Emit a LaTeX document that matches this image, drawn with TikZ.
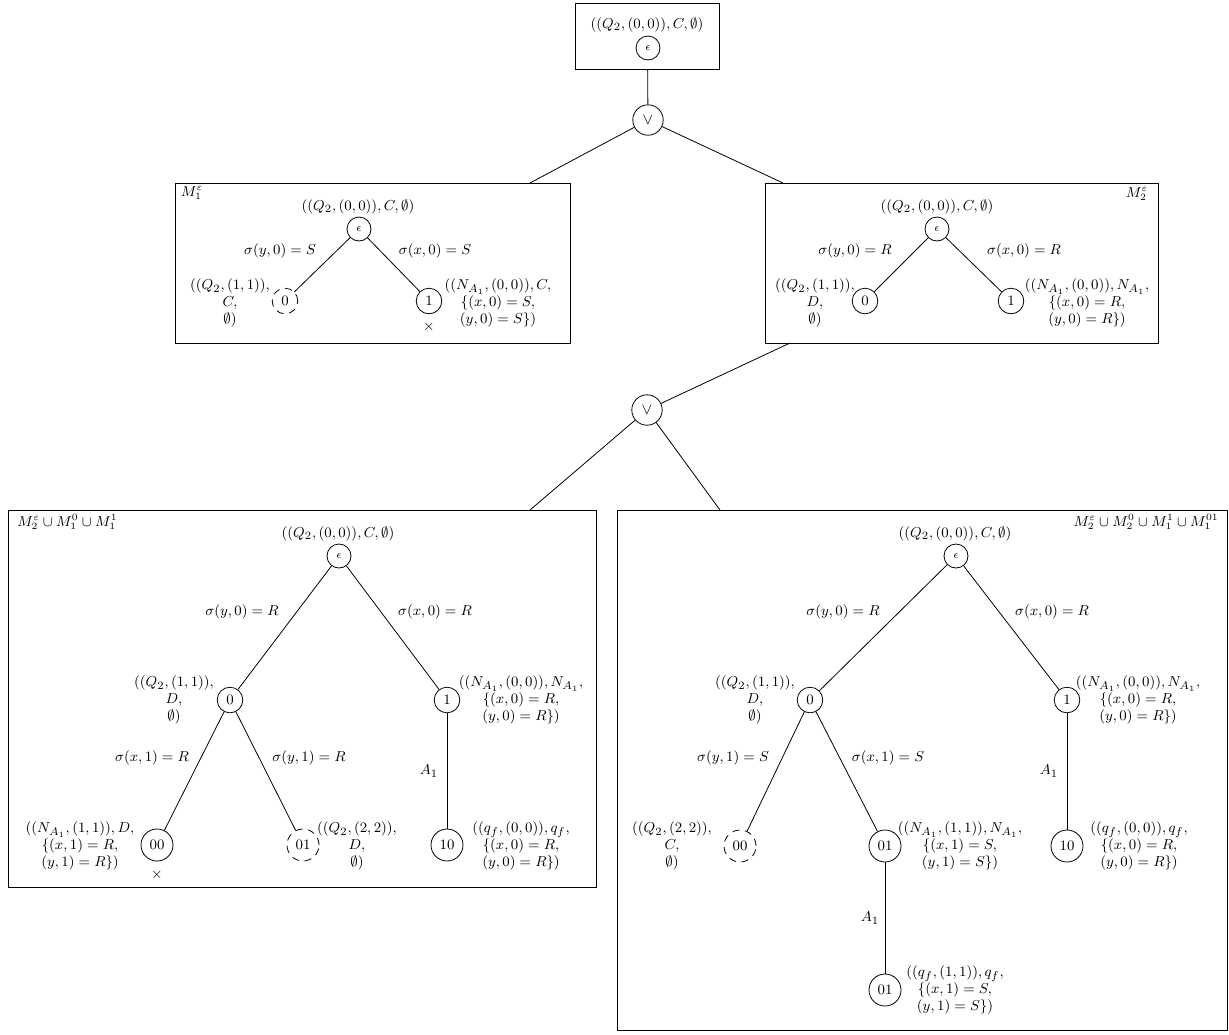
\documentclass[tikz,border=0pt]{standalone}
\begin{document}
\begin{tikzpicture}[x=0.625pt,y=-0.625pt,line width=0.5pt,
  st/.style={circle,draw,minimum size=16pt,inner sep=1pt,font=\small},
  ste/.style={st,minimum size=15pt,font=\scriptsize},
  dst/.style={st,dash pattern=on 4.5pt off 3.5pt},
  wst/.style={st,minimum size=20pt},
  dwst/.style={wst,dash pattern=on 4.5pt off 3.5pt},
  orn/.style={circle,draw,minimum size=19pt,inner sep=0pt},
  txt/.style={font=\fontsize{9.4}{10.5}\selectfont,align=center,inner sep=0pt},
  blbl/.style={font=\small,inner sep=0pt},
  boxst/.style={draw,inner sep=0pt,anchor=north west}]
\useasboundingbox (0,0) rectangle (1229,1034);

% boxes
\node[boxst,minimum width=90.3pt,minimum height=41.25pt] (B0) at (575,3) {};
\node[boxst,minimum width=246.9pt,minimum height=100pt] (B1) at (175,183) {};
\node[boxst,minimum width=245.6pt,minimum height=100pt] (B2) at (765,183) {};
\node[boxst,minimum width=367.5pt,minimum height=235.6pt] (B3) at (8,510) {};
\node[boxst,minimum width=381.25pt,minimum height=325pt] (B4) at (617,510) {};

% top
\node[txt] (t0) at (647,25) {$((Q_2,(0,0)),C,\emptyset)$};
\node[ste] (e0) at (648,48) {$\epsilon$};
\node[orn] (or1) at (648,120) {$\vee$};
\node[orn] (or2) at (647,410) {$\vee$};
\coordinate (c1) at (530,183);
\coordinate (c2) at (783,183);
\coordinate (c3) at (790,343);
\coordinate (c4) at (530,510);
\coordinate (c5) at (720,510);
\draw (B0.south) -- (or1);
\draw (or1) -- (c1);
\draw (or1) -- (c2);
\draw (c3) -- (or2);
\draw (or2) -- (c4);
\draw (or2) -- (c5);

% M1 eps
\node[blbl] (l1) at (192,193) {$M_1^\varepsilon$};
\node[txt] (t1) at (358,207) {$((Q_2,(0,0)),C,\emptyset)$};
\node[ste] (e1) at (359,229) {$\epsilon$};
\node[dst] (n10) at (285,301) {0};
\node[st] (n11) at (429,301) {1};
\draw (e1) -- (n10);
\draw (e1) -- (n11);
\node[txt] (s11) at (280,251) {$\sigma(y,0)=S$};
\node[txt] (s12) at (435,251) {$\sigma(x,0)=S$};
\node[txt] (a10) at (230,303) {$((Q_2,(1,1)),$\\$C,$\\$\emptyset)$};
\node[txt] (a11) at (498,303) {$((N_{A_1},(0,0)),C,$\\$\{(x,0)=S,$\\$(y,0)=S\})$};
\node[txt] (x1) at (429,327) {$\times$};

% M2 eps
\node[blbl] (l2) at (1137,194) {$M_2^\varepsilon$};
\node[txt] (t2) at (937,207) {$((Q_2,(0,0)),C,\emptyset)$};
\node[ste] (e2) at (937,229) {$\epsilon$};
\node[st] (n20) at (865,301) {0};
\node[st] (n21) at (1011,301) {1};
\draw (e2) -- (n20);
\draw (e2) -- (n21);
\node[txt] (s21) at (855,251) {$\sigma(y,0)=R$};
\node[txt] (s22) at (1024,251) {$\sigma(x,0)=R$};
\node[txt] (a20) at (815,303) {$((Q_2,(1,1)),$\\$D,$\\$\emptyset)$};
\node[txt] (a21) at (1087,303) {$((N_{A_1},(0,0)),N_{A_1},$\\$\{(x,0)=R,$\\$(y,0)=R\})$};

% box 3
\node[blbl,anchor=west] (l3) at (17,522) {$M_2^\varepsilon\cup M_1^0\cup M_1^1$};
\node[txt] (t3) at (338,534) {$((Q_2,(0,0)),C,\emptyset)$};
\node[ste] (e3) at (339,556) {$\epsilon$};
\node[st] (n30) at (230,700) {0};
\node[st] (n31) at (447,700) {1};
\node[wst] (n300) at (157,845) {00};
\node[dwst] (n301) at (303,845) {01};
\node[wst] (n310) at (447,845) {10};
\draw (e3) -- (n30);
\draw (e3) -- (n31);
\draw (n30) -- (n300);
\draw (n30) -- (n301);
\draw (n31) -- (n310);
\node[txt] (s31) at (242,612) {$\sigma(y,0)=R$};
\node[txt] (s32) at (435,612) {$\sigma(x,0)=R$};
\node[txt] (s33) at (152,758) {$\sigma(x,1)=R$};
\node[txt] (s34) at (309,758) {$\sigma(y,1)=R$};
\node[txt] (s35) at (429,771) {$A_1$};
\node[txt] (a30) at (174,700) {$((Q_2,(1,1)),$\\$D,$\\$\emptyset)$};
\node[txt] (a31) at (521,700) {$((N_{A_1},(0,0)),N_{A_1},$\\$\{(x,0)=R,$\\$(y,0)=R\})$};
\node[txt] (a300) at (80,846) {$((N_{A_1},(1,1)),D,$\\$\{(x,1)=R,$\\$(y,1)=R\})$};
\node[txt] (a301) at (357,846) {$((Q_2,(2,2)),$\\$D,$\\$\emptyset)$};
\node[txt] (a310) at (521,846) {$((q_f,(0,0)),q_f,$\\$\{(x,0)=R,$\\$(y,0)=R\})$};
\node[txt] (x3) at (157,875) {$\times$};

% box 4
\node[blbl,anchor=east] (l4) at (1219,522) {$M_2^\varepsilon\cup M_2^0\cup M_1^1\cup M_1^{01}$};
\node[txt] (t4) at (955,534) {$((Q_2,(0,0)),C,\emptyset)$};
\node[ste] (e4) at (956,556) {$\epsilon$};
\node[st] (n40) at (810,700) {0};
\node[st] (n41) at (1067,700) {1};
\node[dwst] (n400) at (740,846) {00};
\node[wst] (n401) at (885,846) {01};
\node[wst] (n410) at (1067,846) {10};
\node[wst] (n4010) at (885,990) {01};
\draw (e4) -- (n40);
\draw (e4) -- (n41);
\draw (n40) -- (n400);
\draw (n40) -- (n401);
\draw (n41) -- (n410);
\draw (n401) -- (n4010);
\node[txt] (s41) at (843,612) {$\sigma(y,0)=R$};
\node[txt] (s42) at (1052,612) {$\sigma(x,0)=R$};
\node[txt] (s43) at (733,758) {$\sigma(y,1)=S$};
\node[txt] (s44) at (888,758) {$\sigma(x,1)=S$};
\node[txt] (s45) at (1049,771) {$A_1$};
\node[txt] (s46) at (870,918) {$A_1$};
\node[txt] (a40) at (755,700) {$((Q_2,(1,1)),$\\$D,$\\$\emptyset)$};
\node[txt] (a41) at (1138,700) {$((N_{A_1},(0,0)),N_{A_1},$\\$\{(x,0)=R,$\\$(y,0)=R\})$};
\node[txt] (a400) at (672,846) {$((Q_2,(2,2)),$\\$C,$\\$\emptyset)$};
\node[txt] (a401) at (960,846) {$((N_{A_1},(1,1)),N_{A_1},$\\$\{(x,1)=S,$\\$(y,1)=S\})$};
\node[txt] (a410) at (1139,846) {$((q_f,(0,0)),q_f,$\\$\{(x,0)=R,$\\$(y,0)=R\})$};
\node[txt] (a4010) at (955,990) {$((q_f,(1,1)),q_f,$\\$\{(x,1)=S,$\\$(y,1)=S\})$};
\end{tikzpicture}
\end{document}
